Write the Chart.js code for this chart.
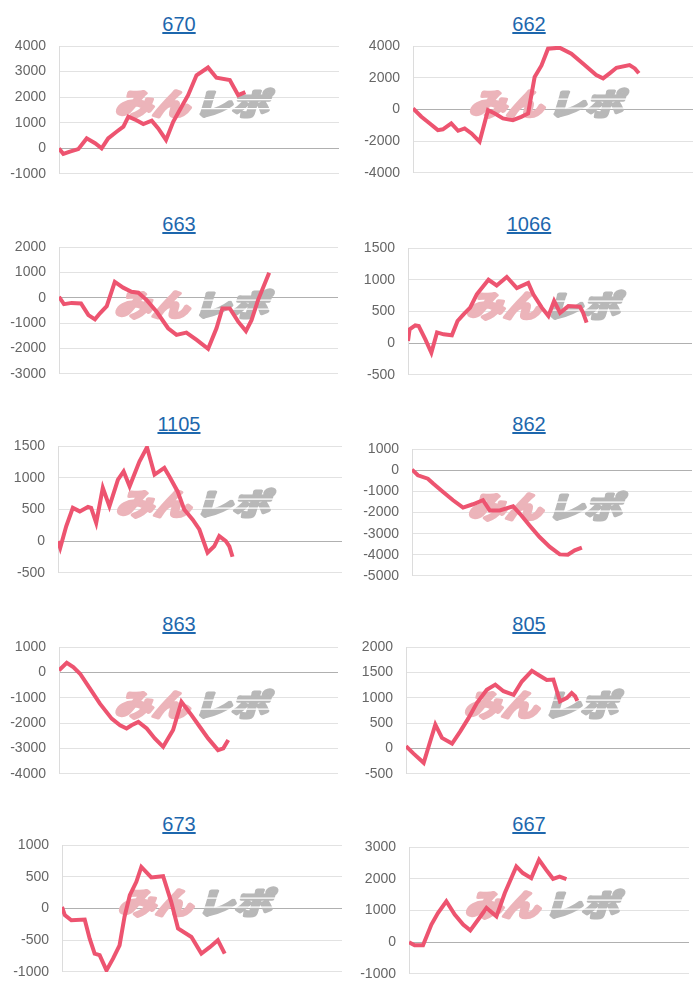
<!DOCTYPE html>
<html>
<head>
<meta charset="utf-8">
<script src="https://cdn.jsdelivr.net/npm/chart.js@4.4.0/dist/chart.umd.min.js"></script>
<style>
  body { margin: 0; background: #fff; font-family: "Liberation Sans", Arial, sans-serif; }
  #page { position: relative; width: 700px; height: 1000px; }
  .ttl { position: absolute; width: 358px; text-align: center; font-size: 20px; line-height: 22px; }
  .ttl a { color: #1d67ad; text-decoration: underline; }
  canvas { position: absolute; }
</style>
</head>
<body>
<div id="page"></div>
<script>
// machine numbers shown as titles
const titles = ['670', '662', '663', '1066', '1105', '862', '863', '805', '673', '667'];

// games played (x) and coin difference (y) per machine
const games670 = [0, 140, 350, 620, 890, 1160, 1370, 1580, 1850, 2070, 2230, 2490, 2710, 2980, 3190, 3440, 3670, 3940, 4150, 4420, 4790, 5060, 5490, 5760, 5990];
const diff670 = [0, -220, -130, -30, 390, 200, 0, 390, 650, 850, 1240, 1100, 950, 1080, 780, 330, 1040, 1630, 2080, 2860, 3160, 2760, 2670, 2080, 2200];

const games662 = [0, 270, 540, 800, 960, 1230, 1450, 1660, 1880, 2140, 2410, 2630, 2890, 3210, 3480, 3700, 3910, 4130, 4340, 4710, 5090, 5460, 5890, 6110, 6320, 6540, 6960, 7130, 7260];
const diff662 = [60, -460, -880, -1300, -1250, -880, -1340, -1190, -1510, -2030, -40, -250, -560, -670, -460, -250, 2050, 2780, 3830, 3900, 3520, 2900, 2170, 1960, 2280, 2630, 2800, 2590, 2280];

const games663 = [0, 160, 410, 710, 950, 1160, 1320, 1540, 1800, 2070, 2340, 2560, 2830, 3150, 3520, 3790, 4110, 4440, 4810, 5080, 5270, 5510, 5780, 6030, 6210, 6420, 6780];
const diff663 = [40, -250, -200, -220, -680, -850, -610, -330, 630, 400, 240, 200, -90, -550, -1200, -1460, -1370, -1660, -2010, -1200, -420, -420, -940, -1310, -880, -90, 990];

const games1066 = [0, 50, 230, 340, 550, 740, 920, 1130, 1390, 1570, 1760, 1970, 2180, 2550, 2810, 3130, 3450, 3810, 3970, 4240, 4450, 4630, 4820, 5080, 5450, 5550, 5660];
const diff1066 = [35, 220, 280, 270, 60, -150, 170, 140, 125, 350, 455, 560, 770, 1000, 910, 1045, 870, 950, 770, 560, 430, 665, 480, 585, 575, 480, 325];

const games1105 = [0, 70, 260, 470, 690, 950, 1050, 1210, 1420, 1630, 1900, 2080, 2270, 2580, 2820, 3060, 3370, 3530, 3790, 4000, 4270, 4480, 4740, 4950, 5110, 5320, 5430, 5530];
const diff1105 = [0, -105, 235, 525, 470, 540, 525, 290, 840, 550, 970, 1100, 865, 1255, 1480, 1050, 1155, 1020, 785, 500, 340, 185, -180, -80, 80, 0, -80, -245];

const games862 = [0, 190, 510, 680, 1000, 1320, 1640, 1960, 2280, 2500, 2820, 3250, 3510, 3780, 4100, 4430, 4750, 5010, 5230, 5460];
const diff862 = [30, -240, -400, -630, -1030, -1420, -1770, -1610, -1420, -1900, -1900, -1710, -2130, -2610, -3160, -3630, -3980, -4000, -3790, -3660];

const games863 = [0, 250, 460, 680, 1000, 1320, 1700, 1970, 2180, 2340, 2560, 2830, 3090, 3360, 3680, 3950, 4280, 4540, 4810, 5130, 5300, 5460];
const diff863 = [80, 380, 210, -50, -640, -1230, -1820, -2080, -2210, -2080, -1950, -2210, -2600, -2930, -2270, -1160, -1690, -2140, -2600, -3060, -2990, -2660];

const games805 = [0, 240, 560, 720, 930, 1140, 1460, 1720, 1980, 2250, 2560, 2830, 3090, 3410, 3670, 3990, 4200, 4460, 4670, 4880, 5100, 5250, 5360, 5430];
const diff805 = [45, -100, -280, 45, 470, 210, 100, 340, 600, 900, 1160, 1260, 1130, 1060, 1320, 1530, 1450, 1350, 1360, 930, 1000, 1095, 1030, 940];

const games673 = [0, 90, 300, 730, 890, 1050, 1210, 1430, 1640, 1850, 2010, 2180, 2390, 2550, 2870, 3250, 3510, 3730, 4160, 4480, 4750, 5010, 5230];
const diff673 = [25, -105, -185, -175, -475, -710, -735, -975, -790, -580, -130, 210, 420, 655, 490, 510, 105, -315, -450, -710, -610, -500, -710];

const games667 = [0, 180, 450, 720, 930, 1200, 1470, 1740, 1970, 2220, 2490, 2810, 3080, 3450, 3660, 3930, 4180, 4410, 4630, 4840, 5060];
const diff667 = [0, -95, -95, 555, 920, 1290, 870, 555, 375, 710, 1080, 815, 1550, 2390, 2180, 2020, 2600, 2280, 2000, 2070, 1990];

// y axis ranges
const yMin = [-1000, -4000, -3000, -500, -500, -5000, -4000, -500, -1000, -1000];
const yMax = [4000, 4000, 2000, 1500, 1500, 1000, 1000, 2000, 1000, 3000];
const yStep = [1000, 2000, 1000, 500, 500, 1000, 1000, 500, 500, 1000];

const allGames = [games670, games662, games663, games1066, games1105, games862, games863, games805, games673, games667];
const allDiff = [diff670, diff662, diff663, diff1066, diff1105, diff862, diff863, diff805, diff673, diff667];

// panel placement (plot area edges inside each 350x200 panel)
const axisX = [59, 63, 59, 58, 58, 62, 59, 56, 62, 59];
const rightX = [339, 343, 338, 342, 342, 342, 338, 340, 342, 339];
const topY = [46, 46, 47, 48, 46, 49, 47, 47, 45, 47];
const botY = [174, 173, 174, 175, 173, 176, 174, 174, 172, 174];
const AXW = 50;

const watermark = {
  id: 'watermark',
  beforeDatasetsDraw(chart) {
    const a = chart.chartArea;
    const ctx = chart.ctx;
    ctx.save();
    ctx.translate((a.left + a.right) / 2 - 4, (a.top + a.bottom) / 2 - 6);
    ctx.transform(1.24, 0, -0.3, 1, 0, 0);
    ctx.font = 'bold 30px "Noto Sans CJK JP"';
    ctx.textBaseline = 'middle';
    ctx.lineJoin = 'round';
    ctx.lineWidth = 3.5;
    ctx.textAlign = 'right';
    ctx.fillStyle = ctx.strokeStyle = 'rgb(236,180,186)';
    ctx.strokeText('みん', -2, 0);
    ctx.fillText('みん', -2, 0);
    ctx.textAlign = 'left';
    ctx.fillStyle = ctx.strokeStyle = 'rgb(184,184,184)';
    ctx.strokeText('レポ', 2, 0);
    ctx.fillText('レポ', 2, 0);
    ctx.fillStyle = '#fff';
    ctx.fillRect(4, -5, 62, 1.3);
    ctx.fillRect(4, 4, 62, 1.3);
    ctx.restore();
  }
};

function makeConfig(i) {
  return {
    type: 'line',
    data: {
      datasets: [{
        data: allGames[i].map((g, k) => ({ x: g, y: allDiff[i][k] })),
        borderColor: 'rgb(237,84,112)',
        borderWidth: 4,
        pointRadius: 0,
        tension: 0,
        fill: false
      }]
    },
    options: {
      responsive: false,
      maintainAspectRatio: false,
      animation: false,
      layout: { padding: 0 },
      plugins: { legend: { display: false }, tooltip: { enabled: false } },
      scales: {
        x: { type: 'linear', min: 0, max: 9000, display: false },
        y: {
          min: yMin[i], max: yMax[i],
          afterFit(s) { s.width = AXW; },
          ticks: {
            stepSize: yStep[i], padding: 13, color: '#666',
            font: { family: '"Liberation Sans", Arial', size: 14, lineHeight: 1.15 },
            callback: (v) => String(v)
          },
          grid: {
            drawTicks: false,
            color: (c) => c.tick && c.tick.value === 0 ? '#b0b0b0' : '#e2e2e2',
            lineWidth: 1
          },
          border: { display: true, color: '#dcdcdc' }
        }
      }
    },
    plugins: [watermark]
  };
}

const page = document.getElementById('page');
titles.forEach((t, i) => {
  const px = (i % 2) * 350;
  const py = Math.floor(i / 2) * 200;

  const ttl = document.createElement('div');
  ttl.className = 'ttl';
  ttl.style.left = px + 'px';
  ttl.style.top = (py + 13) + 'px';
  ttl.innerHTML = '<a href="#">' + t + '</a>';
  page.appendChild(ttl);

  // first pass: measure how much room the axis takes, then size the canvas so
  // the plot area lands where the reference has it
  let w = rightX[i] - axisX[i] + AXW, h = botY[i] - topY[i] + 40;
  const probe = document.createElement('canvas');
  probe.width = w; probe.height = h;
  probe.style.width = w + 'px'; probe.style.height = h + 'px';
  page.appendChild(probe);
  const pc = new Chart(probe, makeConfig(i));
  const ca = pc.chartArea;
  const padL = ca.left, padR = w - ca.right, padT = ca.top, padB = h - ca.bottom;
  pc.destroy();
  probe.remove();

  w = rightX[i] - axisX[i] + padL + padR;
  h = botY[i] - topY[i] + padT + padB;
  const cv = document.createElement('canvas');
  cv.width = w; cv.height = h;
  cv.style.width = w + 'px'; cv.style.height = h + 'px';
  cv.style.left = (px + axisX[i] - padL) + 'px';
  cv.style.top = (py + topY[i] - padT) + 'px';
  page.appendChild(cv);
  new Chart(cv, makeConfig(i));
});
</script>
</body>
</html>
